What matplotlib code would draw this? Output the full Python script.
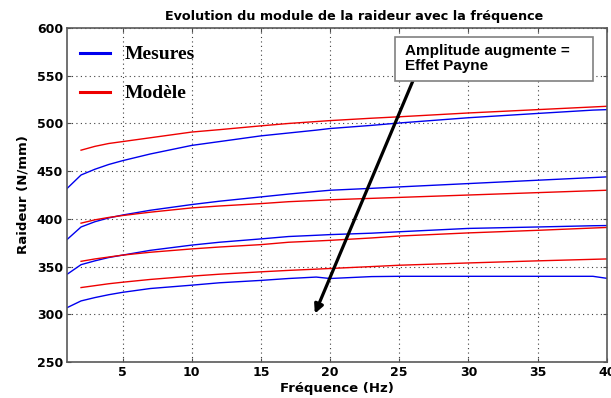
import matplotlib
matplotlib.use('Agg')
import matplotlib.pyplot as plt
from matplotlib.patches import Rectangle

# frequency points (Hz); model curves start at 2 Hz
freq = [1, 2, 3, 4, 5, 7, 10, 12, 15, 17, 19, 20, 23, 25, 30, 35, 39, 40]

# measured stiffness (N/mm), one curve per amplitude
mes_1 = [432, 446, 452, 457, 461, 468, 477, 481, 487, 490, 493, 494.7, 498, 500.5, 506, 510.5, 514, 514.5]
mes_2 = [378.5, 391.5, 397, 401, 404, 409, 415, 418.5, 423, 426, 428.7, 430, 432, 433.5, 437, 440.5, 443.3, 444]
mes_3 = [342, 352, 356, 359.5, 362, 367, 372.5, 375.5, 379, 381.5, 382.8, 383.5, 385, 386.5, 390, 391.5, 392.8, 393]
mes_4 = [307, 314, 317.5, 320.5, 323, 327, 330.5, 333, 335.5, 337.5, 339, 337.5, 339.5, 339.8, 339.8, 339.8, 339.8, 337.7]

# model stiffness (N/mm)
mod_1 = [472, 476, 479, 481, 485, 491, 493.5, 497.5, 500, 502, 503, 505.5, 507, 511, 514.5, 517.3, 518]
mod_2 = [395.5, 399, 401.5, 403.5, 407, 411.5, 413.5, 416, 418, 419.3, 420, 421.5, 422.5, 425, 427.5, 429.5, 430]
mod_3 = [355.5, 358, 360, 362, 365, 368.5, 370.5, 373, 375.5, 376.8, 377.5, 380, 382, 385.3, 388, 390.4, 391]
mod_4 = [328, 330, 332, 333.6, 336.5, 340, 342, 344.5, 346, 347.3, 348, 350, 351.4, 353.8, 356, 357.6, 358]

xticks = [5, 10, 15, 20, 25, 30, 35, 40]
yticks = [250, 300, 350, 400, 450, 500, 550, 600]

plt.rcParams['font.family'] = 'DejaVu Sans'
plt.rcParams['font.weight'] = 'bold'

fig = plt.figure(figsize=(6.11, 3.98), dpi=100)
ax = fig.add_axes([0.110, 0.0905, 0.883, 0.839])

for i, m in enumerate([mes_1, mes_2, mes_3, mes_4]):
    ax.plot(freq, m, color='#0000ee', lw=1.0, label='Mesures' if i == 0 else None)
for i, m in enumerate([mod_1, mod_2, mod_3, mod_4]):
    ax.plot(freq[1:], m, color='#ee0000', lw=1.0, label='Modèle' if i == 0 else None)

ax.set_xlim(1, 40)
ax.set_ylim(250, 600)
ax.set_xticks(xticks)
ax.set_yticks(yticks)
ax.grid(True, color='0.25', linestyle=(0, (1, 3)), lw=0.8)
ax.tick_params(direction='in', length=3, top=True, right=True, labelsize=9, pad=3, color='0.3')
for s in ax.spines.values():
    s.set_color('0.35')
    s.set_linewidth(1.2)

ax.set_xlabel('Fréquence (Hz)', fontsize=9.5, fontweight='bold', labelpad=2)
ax.set_ylabel('Raideur (N/mm)', fontsize=9.5, fontweight='bold', labelpad=5)
ax.set_title('Evolution du module de la raideur avec la fréquence',
             fontsize=9.2, fontweight='bold', x=0.531, pad=6)

leg = ax.legend(loc='upper left', bbox_to_anchor=(0.024, 0.947), frameon=False,
                borderaxespad=0, borderpad=0, handlelength=1.55, handletextpad=0.75,
                labelspacing=1.1, prop={'family': 'Liberation Serif', 'size': 14, 'weight': 'bold'})
for h in leg.get_lines():
    h.set_linewidth(2.2)

# annotation: amplitude effect
ax.annotate('', xy=(18.9, 300.7), xytext=(26, 545),
            arrowprops=dict(arrowstyle='-|>', lw=2.3, color='k', mutation_scale=13,
                            shrinkA=0, shrinkB=0))
ax.add_patch(Rectangle((24.67, 545), 14.35, 46, fc='white', ec='0.5', lw=1.2, zorder=4))
ax.text(25.45, 568, 'Amplitude augmente =\nEffet Payne', family='Liberation Sans',
        fontsize=11, fontweight='bold', ha='left', va='center', linespacing=1.1, zorder=5)

fig.savefig('out.png', dpi=100)
